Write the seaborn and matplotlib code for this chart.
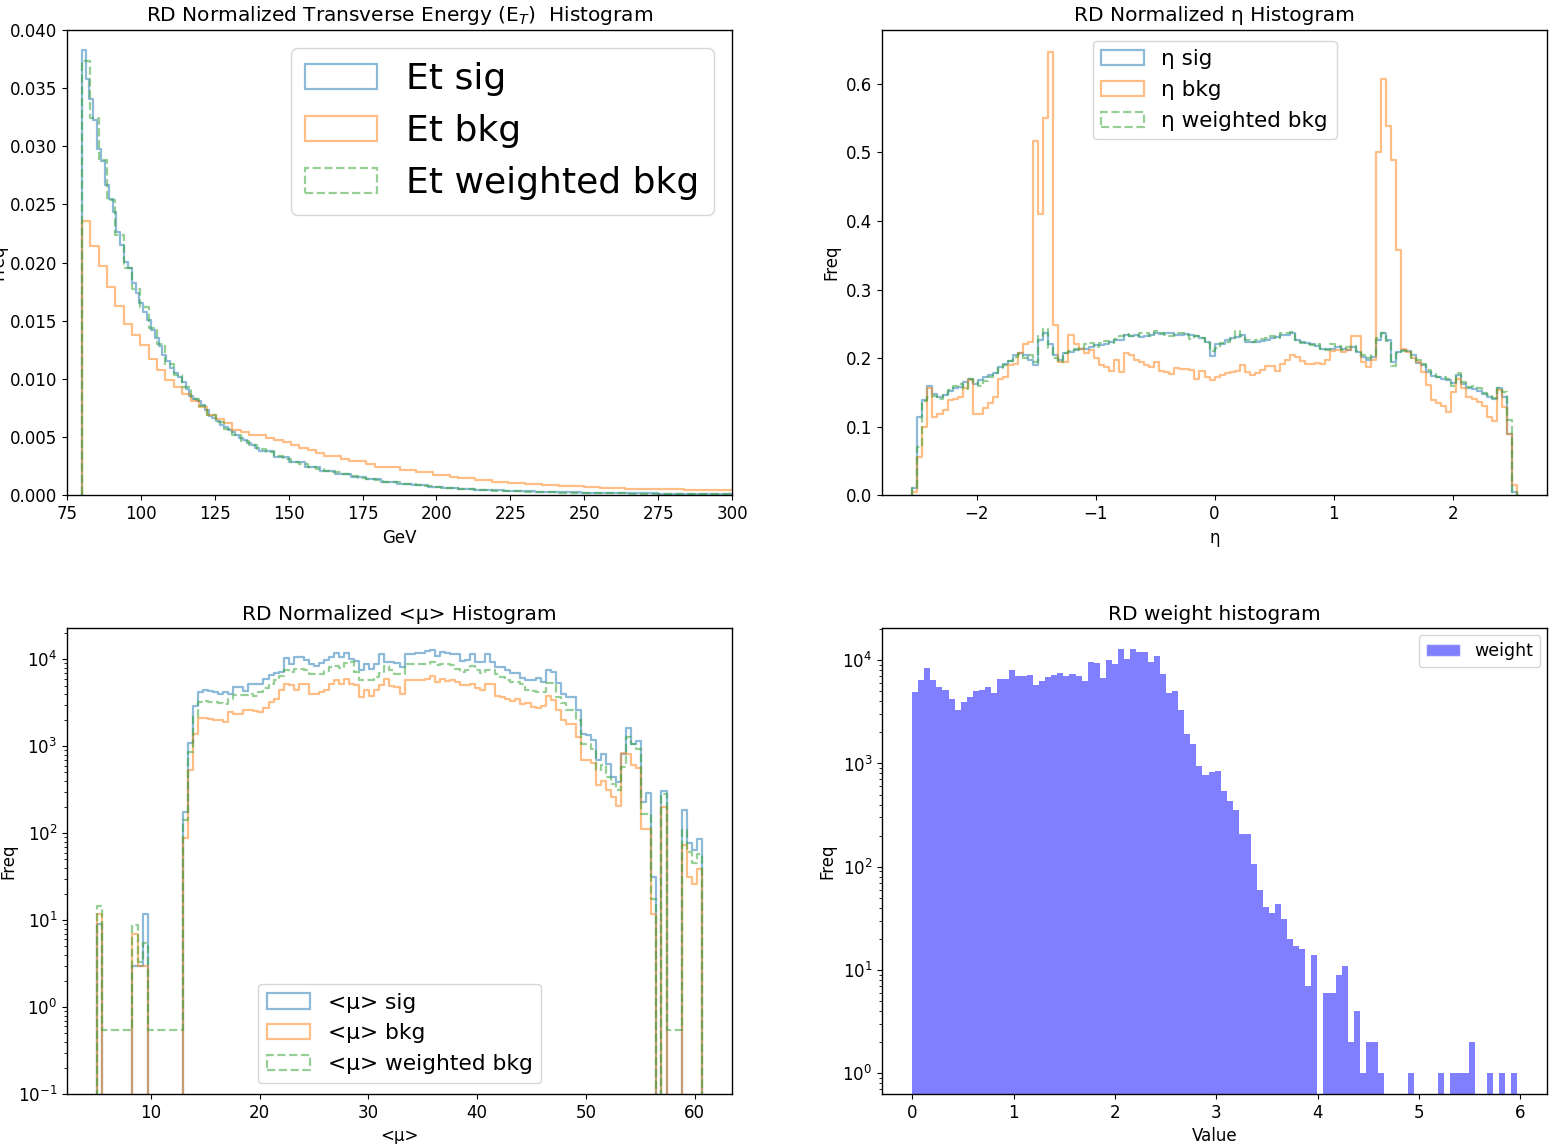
import numpy as np
import pandas as pd
import matplotlib
matplotlib.use("Agg")
import matplotlib.pyplot as plt
from matplotlib.patches import Patch
import seaborn as sns

# ---------------- data: Transverse energy (GeV) ----------------
ET_SIG_START, ET_SIG_FINE_W, ET_SIG_TAIL_W = 80.0, 1.3, 5.2
ET_SIG_FINE = [0.03822, 0.03578, 0.03406, 0.03223, 0.02977, 0.02876, 0.02662, 0.02547, 0.02432, 0.02263,
               0.02154, 0.02006, 0.01954, 0.01825, 0.01739, 0.01653, 0.01573, 0.01504, 0.01418, 0.01352,
               0.01281, 0.01209, 0.01152, 0.01094, 0.01051, 0.01017, 0.00971, 0.00914, 0.00857, 0.00828,
               0.00808, 0.00779, 0.00736, 0.00685, 0.00665, 0.00636, 0.00607, 0.00587, 0.00564, 0.00541,
               0.00516, 0.00493, 0.00473, 0.00450, 0.00430, 0.00407]
ET_SIG_TAIL = [0.0038, 0.0033, 0.0029, 0.00244, 0.0021, 0.00185, 0.00157, 0.00136, 0.00116, 0.0010,
               0.00087, 0.00074, 0.00063, 0.00055, 0.00048, 0.00042, 0.00037, 0.00033, 0.0003, 0.00027,
               0.00025, 0.00023, 0.00021, 0.00019, 0.00017, 0.00016, 0.00014, 0.00013, 0.00012, 0.00011,
               0.0001]
ET_BKG_START, ET_BKG_W = 80.0, 2.83
ET_BKG = [0.02361, 0.02140, 0.01974, 0.01788, 0.01624, 0.01475, 0.01381, 0.01295, 0.01172, 0.01080,
          0.00988, 0.00931, 0.00871, 0.00808, 0.00756, 0.00694, 0.00657, 0.00623, 0.00565, 0.00542,
          0.00514, 0.00514, 0.00494, 0.00473, 0.00456, 0.00430, 0.00408, 0.00385, 0.00365, 0.00336,
          0.00336, 0.00316, 0.00292, 0.00292, 0.00270, 0.00244, 0.00244, 0.00244, 0.00215, 0.00215,
          0.00198, 0.00198, 0.00178, 0.00178, 0.00158, 0.00150, 0.00150, 0.00135, 0.00135, 0.00118,
          0.00118, 0.00107, 0.00107, 0.00095, 0.00095, 0.00086, 0.00086, 0.00077, 0.00077, 0.00077,
          0.00069, 0.00069, 0.00064, 0.00064, 0.00064, 0.00058, 0.00058, 0.00058, 0.00052, 0.00052,
          0.00052, 0.00052, 0.00043, 0.00043, 0.00043, 0.00043, 0.00043, 0.00043]
ET_WBKG = [0.0373, 0.0324, 0.0288, 0.0254, 0.0224, 0.0195, 0.0177, 0.0162, 0.0144, 0.0130,
           0.0113, 0.0103, 0.0093, 0.0083, 0.0077, 0.0069, 0.0063, 0.0057, 0.0052, 0.0047,
           0.0043, 0.0040, 0.0037, 0.0034, 0.0031, 0.0029, 0.0027, 0.00245, 0.0023, 0.0021,
           0.00197, 0.0018, 0.00165, 0.0015, 0.0014, 0.0013, 0.00118, 0.0011, 0.0010, 0.00094,
           0.00086, 0.0008, 0.00072, 0.00066, 0.0006, 0.00055, 0.0005, 0.00047, 0.00044, 0.0004,
           0.00037, 0.00035, 0.00033, 0.00031, 0.00029, 0.00027, 0.00026, 0.00024, 0.00023, 0.00021,
           0.0002, 0.00019, 0.00018, 0.00017, 0.00016, 0.00015, 0.00014, 0.00014, 0.00013, 0.00012,
           0.00012, 0.00011, 0.0001, 0.0001, 0.00009, 0.00009, 0.00008, 0.00008]

# ---------------- data: eta ----------------
ETA_RANGE = (-2.54, 2.54)
ETA_SIG = [0.010, 0.114, 0.139, 0.159, 0.148, 0.144, 0.146, 0.152, 0.157, 0.158,
           0.165, 0.169, 0.163, 0.168, 0.172, 0.175, 0.178, 0.187, 0.192, 0.196,
           0.204, 0.207, 0.204, 0.197, 0.190, 0.226, 0.237, 0.221, 0.204, 0.197,
           0.207, 0.209, 0.212, 0.214, 0.214, 0.217, 0.219, 0.219, 0.220, 0.224,
           0.226, 0.227, 0.234, 0.233, 0.234, 0.231, 0.232, 0.234, 0.236, 0.235,
           0.236, 0.237, 0.234, 0.234, 0.235, 0.234, 0.232, 0.229, 0.224, 0.203,
           0.221, 0.221, 0.226, 0.229, 0.231, 0.234, 0.224, 0.224, 0.224, 0.225,
           0.226, 0.229, 0.231, 0.234, 0.234, 0.236, 0.227, 0.224, 0.222, 0.221,
           0.218, 0.214, 0.213, 0.214, 0.217, 0.214, 0.212, 0.217, 0.209, 0.202,
           0.197, 0.201, 0.227, 0.236, 0.226, 0.195, 0.209, 0.212, 0.211, 0.204,
           0.193, 0.190, 0.180, 0.174, 0.172, 0.170, 0.168, 0.164, 0.175, 0.162,
           0.157, 0.155, 0.152, 0.148, 0.144, 0.140, 0.156, 0.143, 0.090, 0.005]
ETA_BKG = [0.005, 0.056, 0.100, 0.157, 0.114, 0.119, 0.124, 0.139, 0.141, 0.144,
           0.156, 0.168, 0.119, 0.119, 0.127, 0.134, 0.144, 0.170, 0.173, 0.190,
           0.192, 0.207, 0.221, 0.224, 0.517, 0.410, 0.550, 0.647, 0.248, 0.195,
           0.195, 0.234, 0.221, 0.214, 0.207, 0.212, 0.200, 0.190, 0.187, 0.182,
           0.197, 0.180, 0.207, 0.204, 0.197, 0.195, 0.190, 0.187, 0.195, 0.182,
           0.180, 0.177, 0.185, 0.184, 0.184, 0.183, 0.170, 0.182, 0.173, 0.168,
           0.172, 0.175, 0.178, 0.180, 0.182, 0.190, 0.180, 0.175, 0.178, 0.183,
           0.188, 0.188, 0.182, 0.191, 0.198, 0.205, 0.202, 0.196, 0.192, 0.192,
           0.193, 0.191, 0.197, 0.211, 0.212, 0.209, 0.212, 0.232, 0.232, 0.195,
           0.187, 0.197, 0.500, 0.607, 0.539, 0.489, 0.358, 0.213, 0.209, 0.200,
           0.195, 0.180, 0.161, 0.139, 0.134, 0.130, 0.122, 0.151, 0.170, 0.156,
           0.144, 0.141, 0.136, 0.130, 0.114, 0.109, 0.153, 0.129, 0.090, 0.015]
ETA_WBKG = [0.010, 0.070, 0.138, 0.143, 0.145, 0.141, 0.148, 0.153, 0.160, 0.163,
            0.155, 0.170, 0.165, 0.160, 0.166, 0.172, 0.178, 0.186, 0.190, 0.196,
            0.202, 0.206, 0.200, 0.205, 0.195, 0.232, 0.242, 0.215, 0.200, 0.195,
            0.207, 0.210, 0.213, 0.215, 0.220, 0.222, 0.216, 0.222, 0.225, 0.222,
            0.228, 0.232, 0.235, 0.233, 0.232, 0.236, 0.237, 0.233, 0.240, 0.236,
            0.234, 0.232, 0.236, 0.237, 0.234, 0.228, 0.233, 0.230, 0.222, 0.210,
            0.215, 0.222, 0.224, 0.228, 0.240, 0.232, 0.227, 0.224, 0.226, 0.228,
            0.230, 0.232, 0.229, 0.236, 0.237, 0.238, 0.226, 0.222, 0.221, 0.219,
            0.220, 0.213, 0.212, 0.220, 0.218, 0.212, 0.216, 0.218, 0.210, 0.204,
            0.200, 0.205, 0.230, 0.236, 0.225, 0.188, 0.208, 0.211, 0.210, 0.200,
            0.197, 0.192, 0.183, 0.177, 0.172, 0.173, 0.170, 0.160, 0.178, 0.165,
            0.158, 0.160, 0.156, 0.149, 0.146, 0.142, 0.156, 0.150, 0.110, 0.005]

# ---------------- data: <mu> ----------------
MU_RANGE = (5.07, 60.67)
MU_SIG = [9.0, 0, 0, 0, 0, 0, 0, 3, 3, 11.7,
          0, 0, 0, 0, 0, 0, 0, 176, 1090, 2880,
          4210, 4400, 4290, 4210, 4030, 4210, 3950, 4810, 4810, 4330,
          5250, 5200, 5200, 6000, 6550, 6960, 7150, 10400, 8750, 10600,
          10600, 9910, 8900, 8300, 9070, 9730, 10600, 11800, 10600, 11800,
          10200, 9550, 7470, 8750, 7820, 8900, 11400, 9310, 9310, 9070,
          8170, 11600, 11600, 11900, 11900, 12500, 12900, 10800, 12100, 11800,
          11600, 11600, 9550, 9910, 11400, 9310, 9310, 11400, 9310, 8170,
          8170, 7600, 6960, 6960, 6150, 5730, 5730, 6150, 5480, 7600,
          7150, 5340, 4030, 3690, 3690, 2590, 1370, 1350, 1170, 690,
          822, 631, 443, 389, 822, 1640, 1070, 1140, 229, 293,
          31.5, 0, 304, 0, 0, 0, 184, 77, 64, 85]
MU_BKG = [11.7, 0, 0, 0, 0, 0, 0, 7, 3, 3,
          0, 0, 0, 0, 0, 0, 0, 87, 530, 1400,
          2130, 2130, 2080, 2020, 1990, 1900, 2480, 2370, 2340, 2590,
          2590, 2560, 2480, 2780, 3230, 3530, 4400, 5250, 5080, 4480,
          5250, 5250, 4030, 3950, 4210, 4480, 5200, 5840, 5250, 6000,
          5250, 5080, 3690, 4400, 3750, 4480, 5080, 6000, 4890, 4810,
          4030, 5730, 5840, 5840, 5840, 6000, 6370, 5480, 6000, 5640,
          5840, 5480, 5080, 5080, 5200, 4640, 4400, 5250, 5200, 3750,
          3690, 3530, 3320, 3530, 3030, 3150, 2830, 2780, 2880, 3750,
          3380, 2640, 2020, 1790, 1790, 1280, 690, 690, 643, 356,
          399, 318, 261, 204, 837, 809, 604, 569, 113, 113,
          11.7, 0, 200, 0, 0, 0, 73, 31.5, 26, 39]
MU_WBKG = [14.5, 0.545, 0.545, 0.545, 0.545, 0.545, 0.545, 8.8, 3.3, 5.4,
           0.545, 0.545, 0.545, 0.545, 0.545, 0.545, 0.545, 141, 860, 2170,
           3230, 3320, 3230, 3230, 3150, 3030, 3530, 3860, 3860, 3860,
           4030, 3750, 4210, 4720, 5250, 5730, 6370, 7600, 7150, 7800,
           7800, 7460, 6710, 6710, 6840, 7330, 8170, 8300, 8010, 9070,
           9310, 7150, 5840, 5730, 5840, 6270, 6960, 8300, 7600, 6840,
           6840, 8910, 8910, 8740, 8910, 8910, 9310, 8530, 8910, 8910,
           8530, 7800, 7150, 7460, 8300, 7600, 6960, 7600, 7600, 6840,
           6270, 5730, 5480, 5480, 5250, 4400, 4310, 4210, 4210, 5340,
           5340, 3690, 3150, 2640, 2640, 1990, 1070, 1070, 940, 540,
           604, 443, 372, 312, 578, 1280, 1070, 940, 168, 168,
           17.7, 0, 286, 0.545, 0.545, 0.545, 108, 61, 45, 58]

# ---------------- data: weights ----------------
W_RANGE = (0.0, 5.965)
W_COUNTS = [4880, 6470, 8340, 6470, 5540, 5140, 4240, 3320, 3940, 4440,
            4990, 5180, 5450, 4810, 6620, 6620, 8020, 7080, 7080, 7150,
            5790, 6240, 6920, 7150, 7570, 7080, 7350, 7050, 6280, 9590,
            9400, 6770, 9960, 9250, 12700, 10200, 12700, 12100, 12100, 9590,
            11100, 7340, 4810, 5070, 3270, 1910, 1540, 944, 767, 830,
            840, 540, 430, 357, 206, 206, 107, 59, 41, 36,
            44, 31, 20, 17, 16, 7, 14, 0, 6, 6,
            9, 11, 2, 4, 1, 2, 2, 1, 0, 0,
            0, 0, 1, 0, 0, 0, 0, 1, 0, 1,
            1, 1, 2, 0, 0, 1, 0, 1, 0, 1]

C_SIG, C_BKG, C_WBKG = "#1f77b4", "#ff7f0e", "#2ca02c"
LW = 1.6

sns.set_style("ticks")
plt.rcParams.update({
    "font.family": ["DejaVu Sans"],
    "font.size": 12,
    "axes.titlesize": 14.5,
    "axes.labelsize": 12,
    "xtick.labelsize": 12,
    "ytick.labelsize": 12,
    "axes.edgecolor": "black",
    "axes.linewidth": 1.0,
    "text.color": "black",
    "axes.labelcolor": "black",
    "axes.titlecolor": "black",
    "xtick.color": "black",
    "ytick.color": "black",
    "xtick.labelcolor": "black",
    "ytick.labelcolor": "black",
})


def step_hist(ax, edges, heights, color, ls="-"):
    edges = np.asarray(edges, float)
    heights = np.asarray(heights, float)
    eps = (edges[-1] - edges[0]) * 1e-7
    e = np.concatenate([[edges[0] - eps], edges, [edges[-1] + eps]])
    h = np.concatenate([[0.0], heights, [0.0]])
    df = pd.DataFrame({"x": 0.5 * (e[:-1] + e[1:]), "w": h})
    sns.histplot(data=df, x="x", weights="w", bins=list(e), element="step", fill=False,
                 color=color, alpha=0.5, linewidth=LW, linestyle=ls, ax=ax)


def handles(labels):
    cols = [C_SIG, C_BKG, C_WBKG]
    styles = ["-", "-", "--"]
    return [Patch(fill=False, edgecolor=c, alpha=0.5, linewidth=LW, linestyle=s, label=l)
            for c, s, l in zip(cols, styles, labels)]


fig, axes = plt.subplots(2, 2, figsize=(15.58, 11.44), dpi=100)
fig.subplots_adjust(left=0.043, right=0.993, top=0.974, bottom=0.0437, wspace=0.2256, hspace=0.286)
ax1, ax2, ax3, ax4 = axes.ravel()

# ---- panel 1 ----
sig_edges = np.concatenate([ET_SIG_START + ET_SIG_FINE_W * np.arange(len(ET_SIG_FINE) + 1),
                            ET_SIG_START + ET_SIG_FINE_W * len(ET_SIG_FINE)
                            + ET_SIG_TAIL_W * np.arange(1, len(ET_SIG_TAIL) + 1)])
step_hist(ax1, sig_edges, ET_SIG_FINE + ET_SIG_TAIL, C_SIG)
bkg_edges = ET_BKG_START + ET_BKG_W * np.arange(len(ET_BKG) + 1)
step_hist(ax1, bkg_edges, ET_BKG, C_BKG)
step_hist(ax1, bkg_edges, ET_WBKG, C_WBKG, "--")
ax1.set_xlim(75, 300)
ax1.set_ylim(0, 0.040)
ax1.set_title("RD Normalized Transverse Energy (E$_T$)  Histogram")
ax1.set_xlabel("GeV")
ax1.set_ylabel("Freq", labelpad=2)
ax1.legend(handles=handles(["Et sig", "Et bkg", "Et weighted bkg"]), loc="upper right", fontsize=26)

# ---- panel 2 ----
eta_edges = np.linspace(ETA_RANGE[0], ETA_RANGE[1], len(ETA_SIG) + 1)
step_hist(ax2, eta_edges, ETA_SIG, C_SIG)
step_hist(ax2, eta_edges, ETA_BKG, C_BKG)
step_hist(ax2, eta_edges, ETA_WBKG, C_WBKG, "--")
ax2.set_xlim(-2.794, 2.794)
ax2.set_ylim(0, 0.679)
ax2.set_xticks([-2, -1, 0, 1, 2])
ax2.set_title("RD Normalized η Histogram")
ax2.set_xlabel("η")
ax2.set_ylabel("Freq")
ax2.legend(handles=handles(["η sig", "η bkg", "η weighted bkg"]), loc="upper center", fontsize=15.5)

# ---- panel 3 ----
mu_edges = np.linspace(MU_RANGE[0], MU_RANGE[1], len(MU_SIG) + 1)
step_hist(ax3, mu_edges, MU_SIG, C_SIG)
step_hist(ax3, mu_edges, MU_BKG, C_BKG)
step_hist(ax3, mu_edges, MU_WBKG, C_WBKG, "--")
ax3.set_yscale("log")
ax3.set_xlim(2.29, 63.45)
ax3.set_ylim(0.1, 2.27e4)
ax3.set_title("RD Normalized <μ> Histogram")
ax3.set_xlabel("<μ>")
ax3.set_ylabel("Freq", labelpad=0)
ax3.legend(handles=handles(["<μ> sig", "<μ> bkg", "<μ> weighted bkg"]), loc="lower center", fontsize=15.7)

# ---- panel 4 ----
w_edges = np.linspace(W_RANGE[0], W_RANGE[1], len(W_COUNTS) + 1)
wdf = pd.DataFrame({"x": 0.5 * (w_edges[:-1] + w_edges[1:]), "w": W_COUNTS})
sns.histplot(data=wdf, x="x", weights="w", bins=list(w_edges), element="bars", fill=True,
             color="blue", alpha=0.5, linewidth=0, edgecolor="none", ax=ax4)
ax4.set_yscale("log")
ax4.set_xlim(-0.298, 6.263)
ax4.set_ylim(0.63, 2.03e4)
ax4.set_title("RD weight histogram")
ax4.set_xlabel("Value")
ax4.set_ylabel("Freq")
ax4.legend(handles=[Patch(facecolor="blue", alpha=0.5, label="weight")], loc="upper right",
           fontsize=12.5, borderaxespad=0.4)

for ax in axes.ravel():
    for sp in ax.spines.values():
        sp.set_visible(True)

fig.savefig("out.png", dpi=100)
